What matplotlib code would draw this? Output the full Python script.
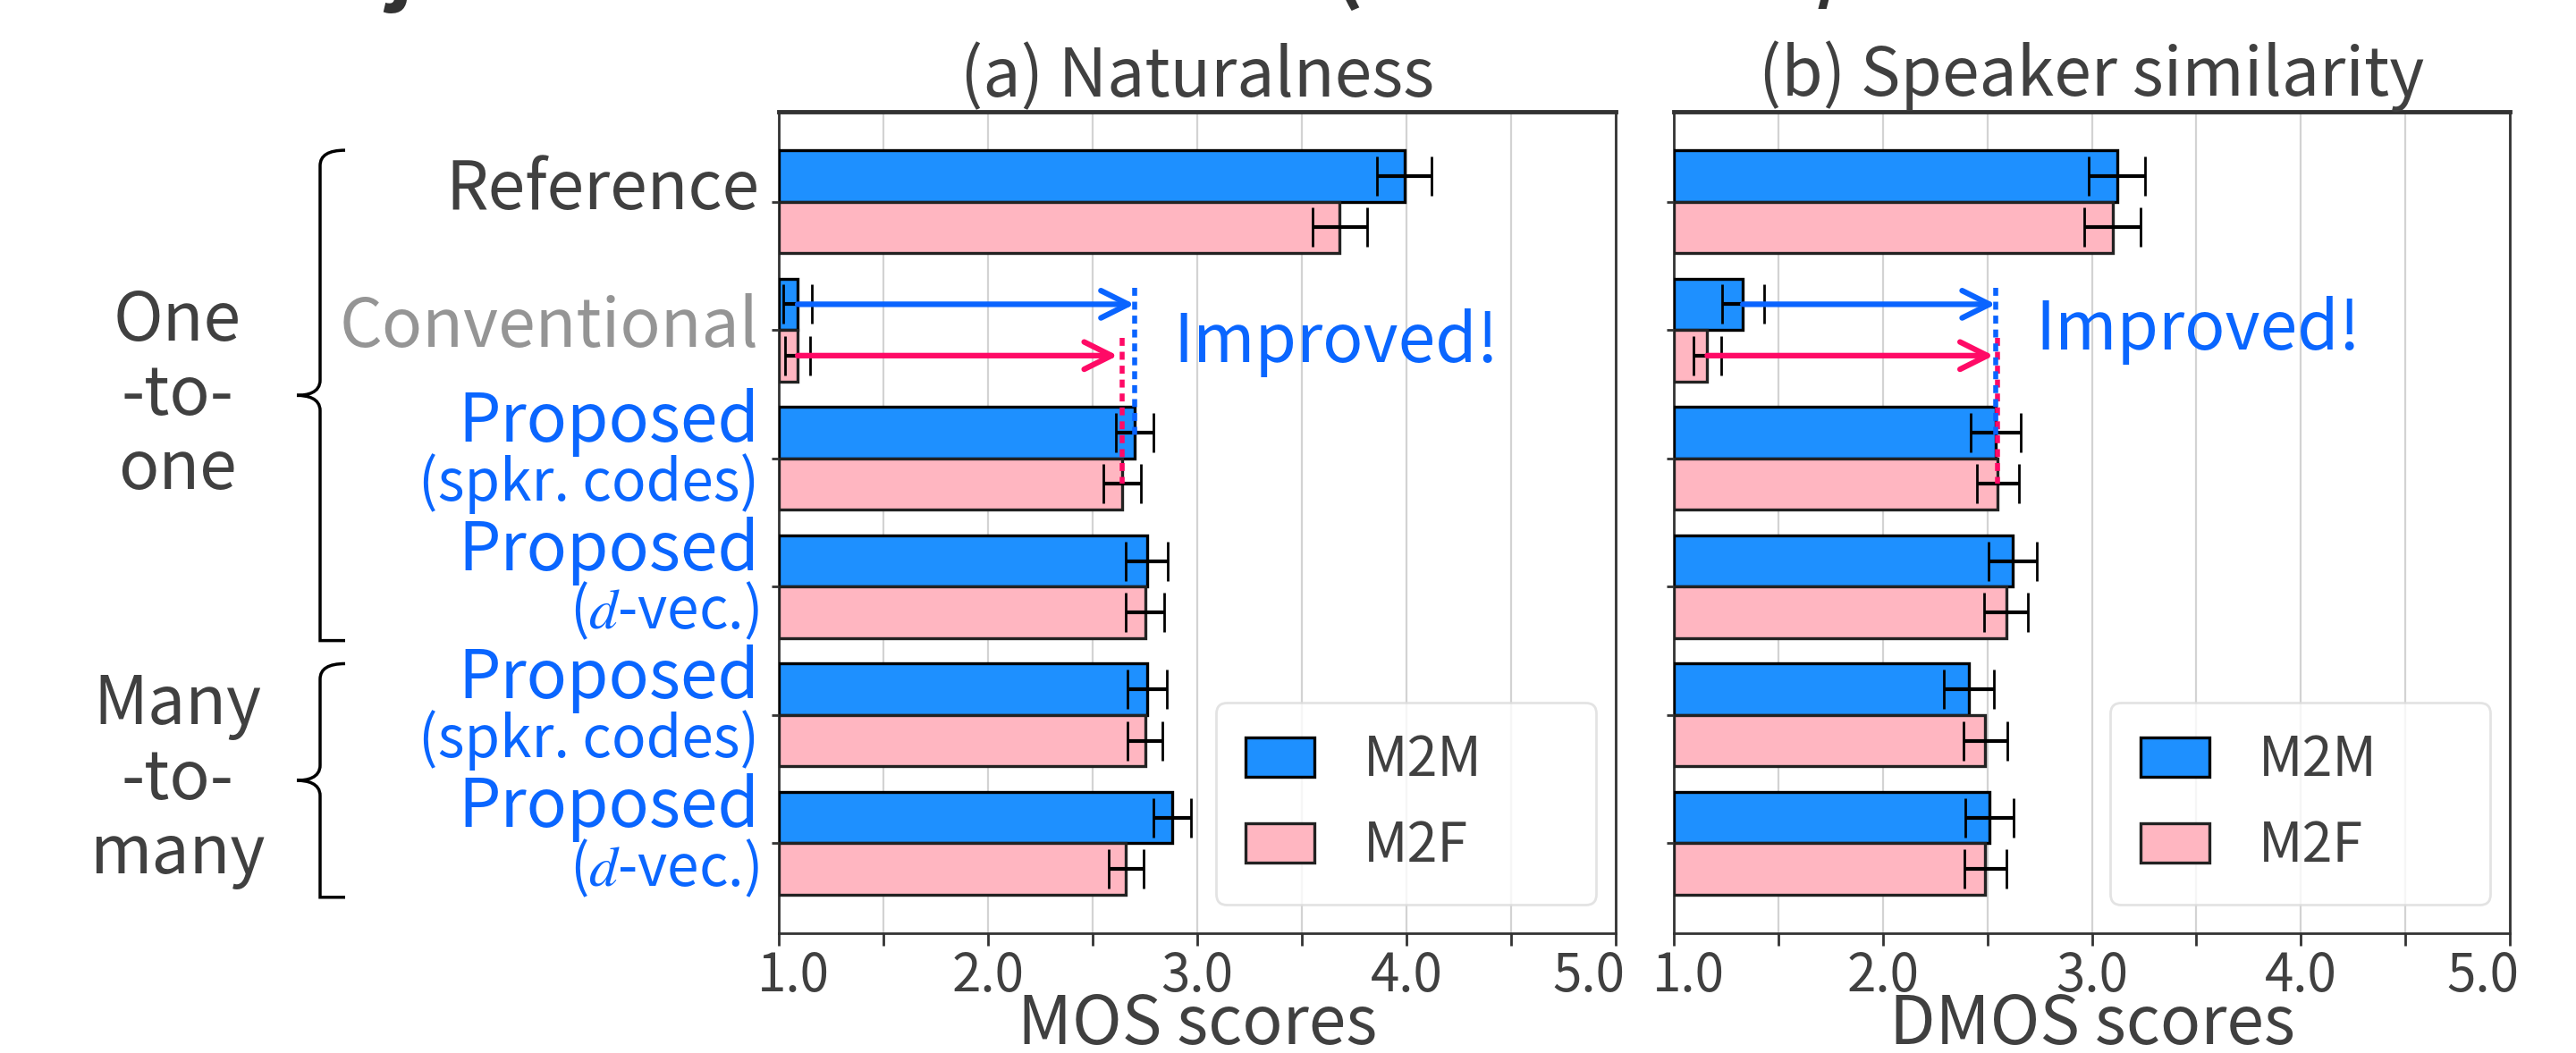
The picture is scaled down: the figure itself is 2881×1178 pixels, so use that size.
import numpy as np
import matplotlib
matplotlib.use("Agg")
import matplotlib.pyplot as plt
from matplotlib.path import Path
from matplotlib.patches import PathPatch
from matplotlib.transforms import blended_transform_factory, ScaledTranslation

plt.rcParams['font.family'] = ['Noto Sans CJK JP', 'DejaVu Sans']
plt.rcParams['mathtext.fontset'] = 'stix'

# ---- data ----
groups = ["Reference", "Conventional", "Proposed\n(spkr. codes)", "Proposed\n(d-vec.)",
          "Proposed\n(spkr. codes)", "Proposed\n(d-vec.)"]
series = ["M2M", "M2F"]

mos_m2m = [3.99, 1.09, 2.70, 2.76, 2.76, 2.88]
mos_m2m_err = [0.13, 0.07, 0.09, 0.10, 0.095, 0.09]
mos_m2f = [3.68, 1.09, 2.64, 2.75, 2.75, 2.66]
mos_m2f_err = [0.13, 0.06, 0.09, 0.09, 0.085, 0.085]

dmos_m2m = [3.12, 1.33, 2.54, 2.62, 2.41, 2.51]
dmos_m2m_err = [0.135, 0.10, 0.12, 0.115, 0.12, 0.115]
dmos_m2f = [3.10, 1.16, 2.55, 2.59, 2.49, 2.49]
dmos_m2f_err = [0.135, 0.065, 0.10, 0.105, 0.105, 0.10]

xticks = [1.0, 1.5, 2.0, 2.5, 3.0, 3.5, 4.0, 4.5, 5.0]
xtick_labels = ["1.0", "", "2.0", "", "3.0", "", "4.0", "", "5.0"]

BLUE = "#1e90ff"
PINK = "#ffb6c1"
ARROW_BLUE = "#0a64ff"
ARROW_PINK = "#ff0a66"
TXT = "#404040"
LBL_BLUE = "#0a66ff"
GRAY = "#959595"

W, H = 2881, 1178
fig = plt.figure(figsize=(W / 100, H / 100), dpi=100)

ax_top, ax_bot = 125, 1044
ax1 = fig.add_axes([871 / W, 1 - ax_bot / H, 936 / W, (ax_bot - ax_top) / H])
ax2 = fig.add_axes([1872 / W, 1 - ax_bot / H, 935 / W, (ax_bot - ax_top) / H])

pos = np.arange(len(groups))
bh = 0.4


def panel(ax, m2m, m2m_err, m2f, m2f_err, title, xlabel, imp_x, imp_y):
    ax.barh(pos - bh / 2, np.array(m2m) - 1.0, left=1.0, height=bh, color=BLUE,
            edgecolor="black", linewidth=2.4, label=series[0], zorder=3)
    ax.barh(pos + bh / 2, np.array(m2f) - 1.0, left=1.0, height=bh, color=PINK,
            edgecolor="#222222", linewidth=2.4, label=series[1], zorder=3)
    ax.errorbar(m2m, pos - bh / 2, xerr=m2m_err, fmt="none", ecolor="black",
                elinewidth=3, capsize=16, capthick=2, zorder=4)
    ax.errorbar(m2f, pos + bh / 2, xerr=m2f_err, fmt="none", ecolor="black",
                elinewidth=3, capsize=16, capthick=2, zorder=4)

    ax.set_xlim(1.0, 5.0)
    ax.set_ylim(5.70, -0.70)
    ax.set_xticks(xticks)
    ax.set_xticklabels(xtick_labels)
    ax.set_yticks(pos)
    ax.set_yticklabels([])
    ax.tick_params(axis="x", labelsize=42, labelcolor=TXT, length=10, width=2,
                   color="#333333", pad=3)
    ax.tick_params(axis="y", length=6, width=2, color="#333333")
    # end labels are nudged inwards, as in the source
    tl = ax.get_xticklabels()
    tl[0].set_transform(tl[0].get_transform() + ScaledTranslation(0.16, 0, fig.dpi_scale_trans))
    tl[-1].set_transform(tl[-1].get_transform() + ScaledTranslation(-0.3, 0, fig.dpi_scale_trans))
    ax.grid(axis="x", color="#d3d3d3", linewidth=1.6, zorder=0)
    ax.set_axisbelow(True)
    for s in ax.spines.values():
        s.set_color("#333333")
        s.set_linewidth(2)
    ax.spines["top"].set_linewidth(3.5)
    ax.set_title(title, fontsize=54, color=TXT, pad=10)
    ax.set_xlabel(xlabel, fontsize=54, color=TXT, labelpad=-11)

    # improvement arrows and dotted guides
    ya = pos[1] - bh / 2
    yb = pos[1] + bh / 2
    ax.annotate("", xy=(m2m[2], ya), xytext=(m2m[1], ya),
                arrowprops=dict(arrowstyle="->", color=ARROW_BLUE, lw=4.5,
                                mutation_scale=55, shrinkA=0, shrinkB=0), zorder=6)
    ax.annotate("", xy=(m2f[2] - 0.02, yb), xytext=(m2f[1], yb),
                arrowprops=dict(arrowstyle="->", color=ARROW_PINK, lw=4.5,
                                mutation_scale=55, shrinkA=0, shrinkB=0), zorder=6)
    ax.plot([m2m[2], m2m[2]], [pos[1] - 0.33, pos[2] - 0.18], color=ARROW_BLUE,
            lw=4, linestyle=(0, (1.6, 1.2)), zorder=7)
    ax.plot([m2f[2], m2f[2]], [pos[1] + 0.06, pos[2] + 0.2], color=ARROW_PINK,
            lw=4, linestyle=(0, (1.6, 1.2)), zorder=6)
    ax.text(imp_x, imp_y, "Improved!", fontsize=54, color=LBL_BLUE,
            ha="left", va="center", zorder=7)

    leg = ax.legend(loc="lower left", bbox_to_anchor=(0.522, 0.035, 0.455, 0.25),
                    mode="expand", fontsize=44, frameon=True, fancybox=True,
                    handlelength=1.26, handleheight=0.74, handletextpad=0.9,
                    labelspacing=0.55, borderpad=0.55, borderaxespad=0)
    leg.get_frame().set_edgecolor("#dcdcdc")
    leg.get_frame().set_linewidth(2)
    for t in leg.get_texts():
        t.set_color(TXT)


panel(ax1, mos_m2m, mos_m2m_err, mos_m2f, mos_m2f_err,
      "(a) Naturalness", "MOS scores", 2.885, 1.1)
panel(ax2, dmos_m2m, dmos_m2m_err, dmos_m2f, dmos_m2f_err,
      "(b) Speaker similarity", "DMOS scores", 2.73, 1.0)

# ---- method labels on the left ----
lab = blended_transform_factory(ax1.transAxes, ax1.transData)
lx = -0.0235
ax1.text(lx, pos[0] + 0.06, "Reference", transform=lab, ha="right", va="baseline",
         fontsize=54, color=TXT)
ax1.text(lx, pos[1] + 0.13, "Conventional", transform=lab, ha="right", va="baseline",
         fontsize=54, color=GRAY)
subs = {2: "(spkr. codes)", 3: "($d$-vec.)", 4: "(spkr. codes)", 5: "($d$-vec.)"}
for i, sub in subs.items():
    ax1.text(lx, pos[i] - 0.13, "Proposed", transform=lab, ha="right", va="baseline",
             fontsize=54, color=LBL_BLUE)
    ax1.text(lx, pos[i] + 0.33, sub, transform=lab, ha="right", va="baseline",
             fontsize=46, color=LBL_BLUE)

# ---- group braces ----
gt = blended_transform_factory(fig.transFigure, ax1.transData)
for name, g0, g1 in [("One\n-to-\none", 0, 3), ("Many\n-to-\nmany", 4, 5)]:
    y0, y1 = pos[g0] - 0.40, pos[g1] + 0.42
    ym = (y0 + y1) / 2
    xe, xl, xt = 386 / W, 358 / W, 332 / W
    c = 0.12
    verts = [(xe, y0), (xl, y0), (xl, y0 + c), (xl, y0 + 2 * c),
             (xl, ym - c),
             (xl, ym - 0.02), (xt + 0.004, ym), (xt, ym),
             (xt + 0.004, ym), (xl, ym + 0.02), (xl, ym + c),
             (xl, y1 - 2 * c),
             (xl, y1 - c), (xl, y1), (xe, y1)]
    codes = [Path.MOVETO, Path.CURVE3, Path.CURVE3, Path.LINETO,
             Path.LINETO,
             Path.CURVE4, Path.CURVE4, Path.CURVE4,
             Path.CURVE4, Path.CURVE4, Path.CURVE4,
             Path.LINETO,
             Path.CURVE3, Path.CURVE3, Path.LINETO]
    patch = PathPatch(Path(verts, codes), transform=gt, fill=False, lw=2.5,
                      color="black", clip_on=False)
    fig.add_artist(patch)
    fig.text(198 / W, ym, name, transform=gt, ha="center", va="center",
             fontsize=54, color=TXT, linespacing=1.1)

# ---- title clipped at the top edge (only descenders show in the source) ----
fig.text(0.088, 1.006, "Subjective evaluation test (MOS score / DMOS score tests)",
         ha="left", va="baseline", fontsize=68, fontweight="bold", color="#333333")

fig.savefig("out.png", dpi=100)
